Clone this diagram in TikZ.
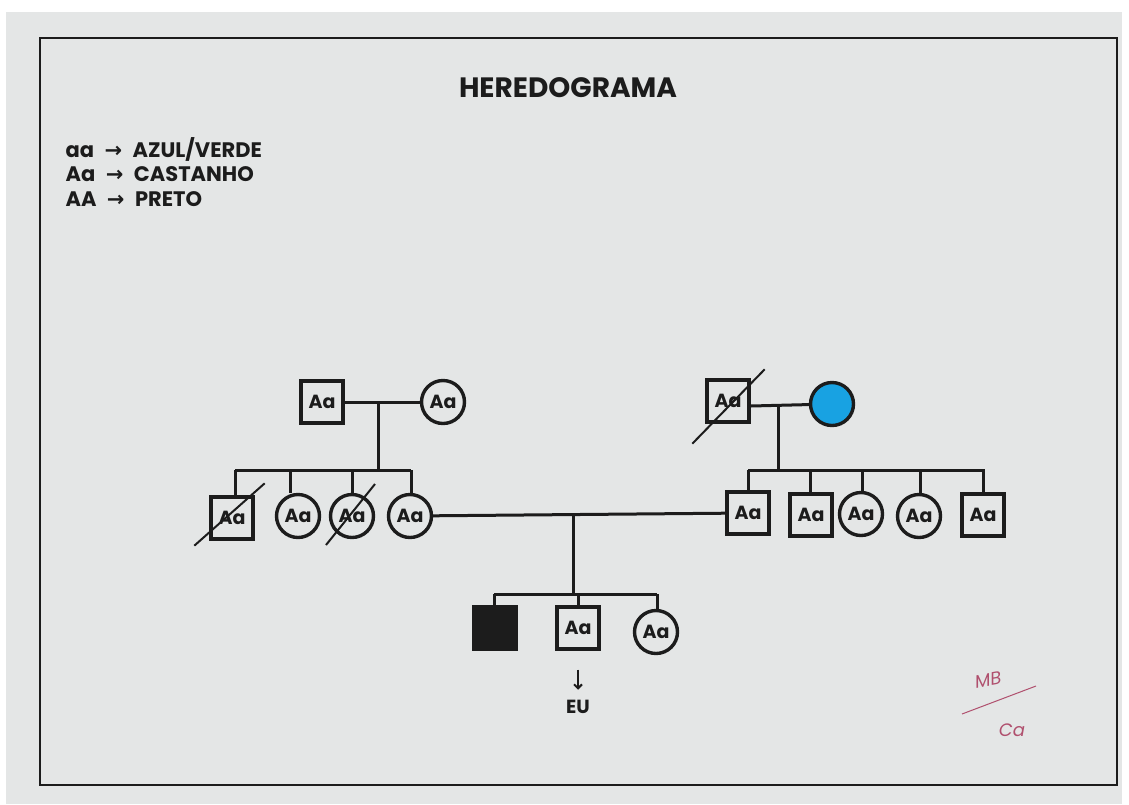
\documentclass[tikz,border=0pt]{standalone}
\usepackage{fontspec}
\setmainfont{Poppins}
\newfontfamily\arrowfont{DejaVu Sans}
\usepackage{tikz}
\usetikzlibrary{arrows.meta,positioning,calc}

\definecolor{paper}{HTML}{E4E6E6}
\definecolor{ink}{HTML}{1C1C1C}
\definecolor{sky}{HTML}{18A2E2}
\definecolor{signred}{HTML}{B0506E}

\begin{document}
\begin{tikzpicture}[
    x=1pt, y=-1pt,
    every node/.style={text=ink, font=\bfseries\fontsize{19}{19}\selectfont},
    male/.style={draw=ink, line width=3.4pt, rectangle, minimum size=42pt, inner sep=0pt},
    female/.style={draw=ink, line width=3.4pt, circle, minimum size=43pt, inner sep=0pt},
    link/.style={draw=ink, line width=3pt},
    dead/.style={draw=ink, line width=2pt}
]
\useasboundingbox (0,0) rectangle (1129,804);
\fill[white] (0,0) rectangle (1129,804);
\fill[paper] (6,12) rectangle (1122,804);
\draw[ink, line width=2pt] (40,38) rectangle (1117,785);

% title and legend
\node (title) at (568,88) {\fontsize{28}{28}\selectfont HEREDOGRAMA};
\node[anchor=west] (leg1) at (62,149) {\fontsize{21}{21}\selectfont aa\enspace{\arrowfont →}\enspace AZUL/VERDE};
\node[anchor=west] (leg2) at (62,174) {\fontsize{21}{21}\selectfont Aa\enspace{\arrowfont →}\enspace CASTANHO};
\node[anchor=west] (leg3) at (62,199) {\fontsize{21}{21}\selectfont AA\enspace{\arrowfont →}\enspace PRETO};

% left grandparents
\node[male] (gpa) at (322,402) {Aa};
\node[female] (gma) at (443,402) {Aa};
\coordinate (lpar) at (378,402);
\draw[link] (gpa) -- (gma);
\draw[link] (lpar) -- (378,470);
\draw[link] (235,470) -- (411,470);

% left children
\node[male] (l1) at (232,518) {Aa};
\node[female] (l2) at (298,516) {Aa};
\node[female] (l3) at (352,516) {Aa};
\node[female] (mom) at (410,516) {Aa};
\foreach \n/\x in {l1/235, l2/290, l3/352, mom/411}
    \draw[link] (\x,470) -- (\x,470 |- \n.north);
\draw[dead] ([shift={(-15,5)}]l1.south west) -- ([shift={(10,-12)}]l1.north east);
\draw[dead] ([shift={(-26,29)}]l3.center) -- ([shift={(23,-32)}]l3.center);

% right grandparents
\node[male] (gpb) at (728,401) {Aa};
\node[female, fill=sky] (gmb) at (832,404) {};
\coordinate (rpar) at (778,406);
\draw[link] (gpb.east |- rpar) -- (gmb);
\draw[link] (rpar) -- (778,470);
\draw[link] (748,470) -- (985,470);
\draw[dead] ([shift={(-13,20)}]gpb.south west) -- ([shift={(14,-9)}]gpb.north east);

% right children
\node[male] (dad) at (748,513) {Aa};
\node[male] (r2) at (811,515) {Aa};
\node[female] (r3) at (861,514) {Aa};
\node[female] (r4) at (919,516) {Aa};
\node[male] (r5) at (983,515) {Aa};
\foreach \n/\x in {dad/748, r2/810, r3/862, r4/920, r5/983}
    \draw[link] (\x,470) -- (\x,470 |- \n.north);

% parents and grandchildren
\draw[link] (mom) -- (dad);
\coordinate (kids) at (573,514);
\draw[link] (kids) -- (573,594);
\draw[link] (494,594) -- (657,594);
\node[male, fill=ink] (k1) at (495,628) {};
\node[male] (me) at (578,628) {Aa};
\node[female] (k3) at (656,632) {Aa};
\foreach \n/\x in {k1/494, me/578, k3/657}
    \draw[link] (\x,594) -- (\x,594 |- \n.north);
\node (eu) at (578,707) {\fontsize{19}{19}\selectfont EU};
\draw[ink, line width=2pt, -{Straight Barb[length=4pt]}] ([yshift=-19pt]me.south) -- ([yshift=7pt]eu.north);

% signature
\node[text=signred, rotate=10] (sign) at (988,680) {\mdseries\itshape\fontsize{18}{18}\selectfont MB};
\node[text=signred] (sign2) at (1012,730) {\mdseries\itshape\fontsize{18}{18}\selectfont Ca};
\draw[signred, line width=1pt] (962,714) -- (1036,686);

\end{tikzpicture}
\end{document}
